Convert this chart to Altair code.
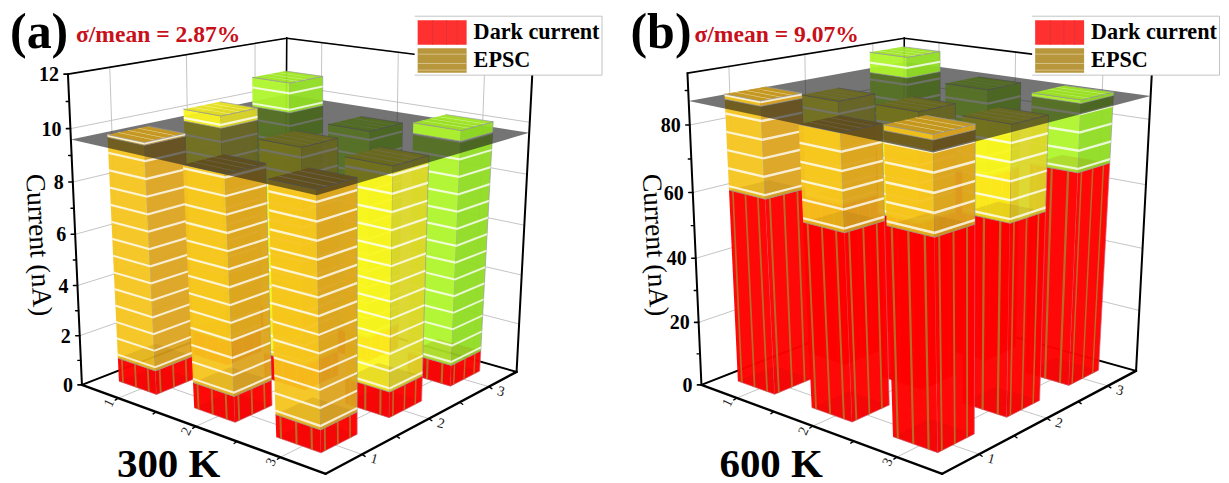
import numpy as np
import pandas as pd
import altair as alt

# grid positions of the bars, back to front
U = [1, 1, 2, 1, 2, 3, 2, 3, 3]
V = [3, 2, 3, 1, 2, 3, 1, 2, 1]
TOTAL_A = [10.8, 10.07, 9.4, 9.7, 9.45, 10.0, 9.2, 9.4, 9.35]
DARK_A = [1.0, 1.0, 1.0, 0.95, 1.0, 0.85, 1.0, 1.0, 0.85]
TOTAL_B = [93.5, 84, 87, 88.5, 85, 88, 84, 86, 88.5]
DARK_B = [62, 52, 60, 60, 52, 66.5, 56, 58, 61]
Z_TICKS_A = [0, 2, 4, 6, 8, 10, 12]
Z_MINOR_A = [1, 3, 5, 7, 9, 11]
Z_TICKS_B = [0, 20, 40, 60, 80]
Z_MINOR_B = [10, 30, 50, 70, 90]
GRID_TICKS = [1, 2, 3]
GRID_MINOR = [1.5, 2.5]
LEGEND = ["Dark current", "EPSC"]

W, H = 1213, 467
ORG = 8
DMIN, DMAX = 0.5, 3.5
HW = 0.255
BU = -0.045
BV0, BVS = 0.05, -0.012
ZPERSP = 0.94
FRONT_FRAC = [0.11, 0.46, 0.80]
TOP_FRAC = [0.25, 0.5, 0.75]
COLORS = {
    1: ("#F5C41C", "#DCA41E", "#C99A1E"),
    2: ("#FBF51E", "#DCD628", "#E6E01E"),
    3: ("#ADF52A", "#8FDC20", "#9DE620"),
}
RED = "#FF0000"
RSTRIPE = "#B8702A"


def homography(L, F, R, B):
    src = [(0, 0), (1, 0), (1, 1), (0, 1)]
    dst = [L, F, R, B]
    A, b = [], []
    for (s, r), (x, y) in zip(src, dst):
        A.append([s, r, 1, 0, 0, 0, -x * s, -x * r])
        A.append([0, 0, 0, s, r, 1, -y * s, -y * r])
        b += [x, y]
    m = np.linalg.solve(np.array(A, float), np.array(b, float))
    return np.append(m, 1).reshape(3, 3)


class Panel:
    def __init__(self, floor, top, zmax, plane, step, bar_top=None):
        self.h0 = homography(*floor)
        self.h1 = homography(*top)
        self.zmax, self.plane, self.step = zmax, plane, step
        self.bar = Panel(floor, bar_top, zmax, plane, step) if bar_top else self

    def p(self, u, v, z):
        s = (u - DMIN) / (DMAX - DMIN)
        r = (v - DMIN) / (DMAX - DMIN)
        q = np.array([s, r, 1.0])
        a = self.h0 @ q
        a = a[:2] / a[2]
        b = self.h1 @ q
        b = b[:2] / b[2]
        t = z / self.zmax
        f = ZPERSP * t / (1 - t + ZPERSP * t)
        return tuple(a + (b - a) * f)


PA = Panel([(82, 383), (326, 472), (517, 370), (285, 304)],
           [(68, 72), (314.6, 119), (533, 67), (287, 36)], 12, 9.6, 0.66,
           [(66, 72), (319.6, 119), (539, 67), (285, 36)])
PB = Panel([(702, 383), (943, 472), (1137, 369), (904, 304)],
           [(688, 71), (933, 119), (1153, 67), (905, 36)], 95, 87, 5.4,
           [(686, 71), (938, 119), (1159, 67), (903, 36)])

polys, lines, texts = [], [], []


def poly(pts, fill, alpha=1.0, stroke="transparent"):
    i = len(polys)
    polys.append([dict(id=i, k=k, x=x, y=y, f=fill, a=alpha, s=stroke)
                  for k, (x, y) in enumerate(pts)])


def line(a, b, color="#000000", w=1.0):
    i = len(lines)
    lines.append(dict(id=i, k=0, x=a[0], y=a[1], c=color, w=w))
    lines.append(dict(id=i, k=1, x=b[0], y=b[1], c=color, w=w))


def faces(P, a, b, c, z0, z1, cols, alpha, edge="#9A9A9A"):
    if z1 <= z0:
        return
    poly([P.p(*a, z0), P.p(*b, z0), P.p(*b, z1), P.p(*a, z1)], cols[0], alpha, edge)
    poly([P.p(*b, z0), P.p(*c, z0), P.p(*c, z1), P.p(*b, z1)], cols[1], alpha, edge)


def band(P, A, B, z, dz, color="#FFFFFF", alpha=0.8):
    poly([P.p(*A, z - dz), P.p(*B, z - dz), P.p(*B, z + dz), P.p(*A, z + dz)], color, alpha)


def part(PF, u0, v0, dark, total, lo, hi):
    P = PF.bar
    u = u0 + BU
    v = v0 + BV0 + BVS * (v0 - 1)
    a, b, c = (u - HW, v - HW), (u + HW, v - HW), (u + HW, v + HW)
    d = (u - HW, v + HW)
    cols = COLORS[v0]
    # red part
    z0, z1 = max(0, lo), min(dark, hi)
    if z1 > z0:
        faces(P, a, b, c, z0, z1, (RED, RED), 0.97, "#D06070")
        if z0 == 0:
            poly([P.p(*q, 0) for q in (a, b, c, d)], "#B00000", 0.12)
        for f in FRONT_FRAC:
            for (A, B) in ((a, b), (b, c)):
                w = 0.024
                ax = (A[0] + (B[0] - A[0]) * (f - w), A[1] + (B[1] - A[1]) * (f - w))
                bx = (A[0] + (B[0] - A[0]) * (f + w), A[1] + (B[1] - A[1]) * (f + w))
                poly([P.p(*ax, z0), P.p(*bx, z0), P.p(*bx, z1), P.p(*ax, z1)], RSTRIPE, 0.95)
    # EPSC part
    z0, z1 = max(dark, lo), min(total, hi)
    if z1 > z0:
        faces(P, a, b, c, z0, z1, cols[:2], 0.94)
        if z0 == dark:
            poly([P.p(*q, dark) for q in (a, b, c, d)], "#9A7010", 0.18)
        z = dark + PF.step * 0.22
        dz = PF.step * 0.065
        while z < total:
            if z0 < z < z1:
                band(P, a, b, z, dz)
                band(P, b, c, z, dz)
            z += PF.step
    if lo <= total <= hi:
        poly([P.p(*q, total) for q in (a, b, c, d)], cols[2], 0.95, "#9A9A9A")
        for f in TOP_FRAC:
            w = 0.014
            A0 = (u - HW, v - HW + 2 * HW * (f - w))
            A1 = (u + HW, v - HW + 2 * HW * (f - w))
            B1 = (u + HW, v - HW + 2 * HW * (f + w))
            B0 = (u - HW, v - HW + 2 * HW * (f + w))
            poly([P.p(*A0, total), P.p(*A1, total), P.p(*B1, total), P.p(*B0, total)], "#FFFFFF", 0.7)


def frame(P, major, minor, labels_right, zlab):
    lo, hi, zm = DMIN, DMAX, P.zmax
    gray = "#BDBDBD"
    for t in GRID_TICKS:
        line(P.p(lo, t, 0), P.p(lo, t, zm), gray, 0.9)
        line(P.p(t, hi, 0), P.p(t, hi, zm), gray, 0.9)
        line(P.p(t, lo, 0), P.p(t, hi, 0), gray, 0.9)
        line(P.p(lo, t, 0), P.p(hi, t, 0), gray, 0.9)
    for z in major:
        line(P.p(lo, lo, z), P.p(lo, hi, z), gray, 0.9)
        line(P.p(lo, hi, z), P.p(hi, hi, z), gray, 0.9)
    k = 2.0
    line(P.p(lo, lo, zm), P.p(lo, hi, zm), "#000000", 1.6)
    line(P.p(lo, hi, zm), P.p(hi, hi, zm), "#000000", 1.6)
    line(P.p(lo, hi, 0), P.p(lo, hi, zm), "#000000", 1.6)
    line(P.p(lo, lo, 0), P.p(lo, hi, 0), "#000000", k)
    line(P.p(lo, hi, 0), P.p(hi, hi, 0), "#000000", k)
    line(P.p(lo, lo, 0), P.p(lo, lo, zm), "#000000", k)
    line(P.p(hi, hi, 0), P.p(hi, hi, zm), "#000000", k)
    line(P.p(lo, lo, 0), P.p(hi, lo, 0), "#000000", 2.4)
    line(P.p(hi, lo, 0), P.p(hi, hi, 0), "#000000", 2.4)
    for z in major:
        x, y = P.p(lo, lo, z)
        line((x, y), (x - 4, y), "#000000", 1.6)
        zlab.append(dict(t=str(z), x=x - 9, y=y + 1))
    for z in minor:
        x, y = P.p(lo, lo, z)
        line((x, y), (x - 3, y), "#000000", 1.4)
    for t in GRID_TICKS + GRID_MINOR:
        x, y = P.p(t, lo, 0)
        line((x, y), (x - 3, y + 2), "#000000", 1.4)
        x2, y2 = P.p(hi, t, 0)
        line((x2, y2), (x2 + 3, y2 + 2), "#000000", 1.4)
    for t in GRID_TICKS:
        x, y = P.p(t, lo, 0)
        labels_right.append(dict(t=str(t), x=x - 9, y=y + 5, a=295))
        x2, y2 = P.p(hi, t, 0)
        labels_right.append(dict(t=str(t), x=x2 + 12, y=y2 + 5, a=15))


def bars(P, totals, darks):
    for u, v, t, d in zip(U, V, totals, darks):
        part(P, u, v, d, t, 0, P.plane)
    c = [P.p(DMIN, DMIN, P.plane), P.p(DMAX, DMIN, P.plane),
         P.p(DMAX, DMAX, P.plane), P.p(DMIN, DMAX, P.plane)]
    poly(c, "#1E1E1E", 0.62)
    for u, v, t, d in zip(U, V, totals, darks):
        if t > P.plane:
            part(P, u, v, d, t, P.plane, 1e9)


def legend(dx):
    x0, x1, y0, y1 = 415 + dx, 602.5 + dx, 14, 73
    poly([(x0, y0), (x1, y0), (x1, y1), (x0, y1)], "#FFFFFF", 1, "#ABABAB")
    sx0, sx1 = 418 + dx, 467 + dx
    poly([(sx0, 18), (sx1, 18), (sx1, 42.5), (sx0, 42.5)], "#FF3030", 1)
    for f in (0.3, 0.58, 0.8):
        xx = sx0 + (sx1 - sx0) * f
        poly([(xx, 18), (xx + 0.8, 18), (xx + 0.8, 42.5), (xx, 42.5)], "#DC3434", 1)
    poly([(sx0, 46), (sx1, 46), (sx1, 70.7), (sx0, 70.7)], "#B8963C", 1)
    for yy in (51.5, 61, 67.5):
        poly([(sx0, yy), (sx1, yy), (sx1, yy + 0.8), (sx0, yy + 0.8)], "#DDCFA0", 1)


rot, zl = [], []
frame(PA, Z_TICKS_A, Z_MINOR_A, rot, zl)
frame(PB, Z_TICKS_B, Z_MINOR_B, rot, zl)
bars(PA, TOTAL_A, DARK_A)
bars(PB, TOTAL_B, DARK_B)
legend(0)
legend(618)

poly_df = pd.DataFrame([r for p in polys for r in p])
line_df = pd.DataFrame(lines)
sx = alt.X("x:Q", scale=alt.Scale(domain=[ORG, ORG + W], nice=False, zero=False), axis=None)
sy = alt.Y("y:Q", scale=alt.Scale(domain=[ORG + H, ORG], nice=False, zero=False), axis=None)

line_layer = alt.Chart(line_df).mark_line(strokeCap="round").encode(
    x=sx, y=sy, detail="id:N", order="k:Q",
    stroke=alt.Stroke("c:N", scale=None),
    strokeWidth=alt.StrokeWidth("w:Q", scale=None),
)
poly_layer = alt.Chart(poly_df).mark_line(strokeWidth=0.7).encode(
    x=sx, y=sy, detail="id:N", order="k:Q",
    fill=alt.Fill("f:N", scale=None),
    stroke=alt.Stroke("s:N", scale=None),
    fillOpacity=alt.FillOpacity("a:Q", scale=None),
)


def text_layer(rows, font="Liberation Serif", **style):
    df = pd.DataFrame(rows)
    enc = dict(x=sx, y=sy, text="t:N")
    if "a" in df:
        enc["angle"] = alt.Angle("a:Q", scale=None)
    return alt.Chart(df).mark_text(font=font, **style).encode(**enc)


layers = [
    line_layer,
    poly_layer,
    text_layer(zl, fontSize=20, fontWeight="bold", align="right", baseline="middle", color="#000000"),
    text_layer(rot, fontSize=14, align="center", baseline="middle", color="#222222"),
    text_layer([dict(t="(a)", x=10, y=46), dict(t="(b)", x=631, y=46)],
               fontSize=50, fontWeight="bold", align="left", baseline="alphabetic", color="#000000"),
    text_layer([dict(t="σ/mean = 2.87%", x=76, y=40), dict(t="σ/mean = 9.07%", x=695, y=40)],
               fontSize=23.6, fontWeight="bold", align="left", baseline="alphabetic", color="#C8101A"),
    text_layer([dict(t="300 K", x=117, y=475), dict(t="600 K", x=720, y=475)],
               fontSize=41, fontWeight="bold", align="left", baseline="alphabetic", color="#000000"),
    text_layer([dict(t="Current (nA)", x=38, y=243, a=87), dict(t="Current (nA)", x=655, y=243, a=87)],
               fontSize=27.5, align="center", baseline="middle", color="#000000"),
    text_layer([dict(t=LEGEND[0], x=474, y=37), dict(t=LEGEND[1], x=474, y=65),
                dict(t=LEGEND[0], x=1092, y=37), dict(t=LEGEND[1], x=1092, y=65)],
               fontSize=22.2, fontWeight="bold", align="left", baseline="alphabetic", color="#000000"),
]

chart = alt.layer(*layers).properties(width=W, height=H, padding=0).configure_view(stroke=None)
chart.save("out.html", embed_options={"renderer": "svg", "actions": False})
